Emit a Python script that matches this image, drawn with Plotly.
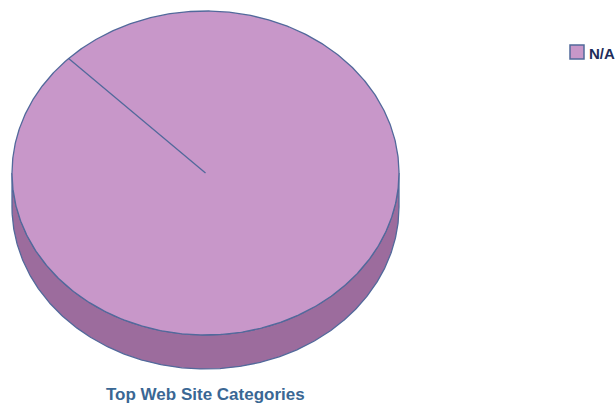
import numpy as np
import plotly.graph_objects as go

# Chart data
categories = ["N/A"]
values = [100]
title_text = "Top Web Site Categories"

# Styling
top_colors = ["#C897C9"]
side_colors = ["#9C6C9D"]
edge_color = "#52699B"
title_color = "#3A6794"
legend_text_color = "#1E2D5A"

W, H = 616, 404
# pie geometry in page pixels
cx, cy = 205.5, 173.0
rx, ry = 193.5, 162.0
depth = 34.0
start_deg = 135.0  # first slice boundary, measured counter-clockwise from 3 o'clock


def ell(t_deg, dy=0.0):
    t = np.radians(t_deg)
    return cx + rx * np.cos(t), cy - ry * np.sin(t) + dy


fig = go.Figure()

total = float(sum(values))
angles = [start_deg]
for v in values:
    # slices run clockwise
    angles.append(angles[-1] - 360.0 * v / total)

# side wall (front half of the cylinder: 180..360 degrees)
for i, v in enumerate(values):
    a0, a1 = angles[i], angles[i + 1]
    lo, hi = min(a0, a1), max(a0, a1)
    # intersect with the visible front arc for each wrap
    for shift in (-720, -360, 0, 360):
        s0, s1 = max(lo, 180 + shift), min(hi, 360 + shift)
        if s1 <= s0:
            continue
        t = np.linspace(s0, s1, 400)
        xt, yt = ell(t)
        xb, yb = ell(t[::-1], depth)
        fig.add_trace(go.Scatter(
            x=np.concatenate([xt, xb, xt[:1]]),
            y=np.concatenate([yt, yb, yt[:1]]),
            mode="lines", fill="toself", fillcolor=side_colors[i],
            line=dict(color=edge_color, width=1.3),
            hoverinfo="skip", showlegend=False))

# top faces
for i, v in enumerate(values):
    a0, a1 = angles[i], angles[i + 1]
    t = np.linspace(a0, a1, 721)
    xt, yt = ell(t)
    if abs(a1 - a0) >= 359.999:
        xs, ys = xt, yt
    else:
        xs = np.concatenate([[cx], xt, [cx]])
        ys = np.concatenate([[cy], yt, [cy]])
    fig.add_trace(go.Scatter(
        x=xs, y=ys, mode="lines", fill="toself", fillcolor=top_colors[i],
        line=dict(color=edge_color, width=1.3),
        name=categories[i], hoverinfo="skip", showlegend=False))

# slice boundary radii
for a in angles[:-1]:
    ex, ey = ell(a)
    fig.add_trace(go.Scatter(
        x=[cx, ex], y=[cy, ey], mode="lines",
        line=dict(color=edge_color, width=1.3),
        hoverinfo="skip", showlegend=False))

# legend keys
for i, name in enumerate(categories):
    ky = 52 + 20 * i
    fig.add_shape(type="rect", x0=570, x1=584, y0=ky - 7, y1=ky + 7,
                  xref="x", yref="y", fillcolor=top_colors[i],
                  line=dict(color=edge_color, width=1.5))
    fig.add_annotation(x=587, y=ky + 1, xref="x", yref="y", text=f"<b>{name}</b>",
                       showarrow=False, xanchor="left", yanchor="middle",
                       font=dict(family="Liberation Sans Narrow, Arial Narrow, sans-serif",
                                 size=15, color=legend_text_color))

fig.add_annotation(x=cx, y=394, xref="x", yref="y", text=f"<b>{title_text}</b>",
                   showarrow=False, xanchor="center", yanchor="middle",
                   font=dict(family="Liberation Sans Narrow, Arial Narrow, sans-serif",
                             size=17, color=title_color))

fig.update_layout(
    width=W, height=H, margin=dict(l=0, r=0, t=0, b=0),
    paper_bgcolor="white", plot_bgcolor="white",
    xaxis=dict(range=[0, W], visible=False, fixedrange=True),
    yaxis=dict(range=[H, 0], visible=False, fixedrange=True),
    showlegend=False,
)

fig.write_html("out.html")
